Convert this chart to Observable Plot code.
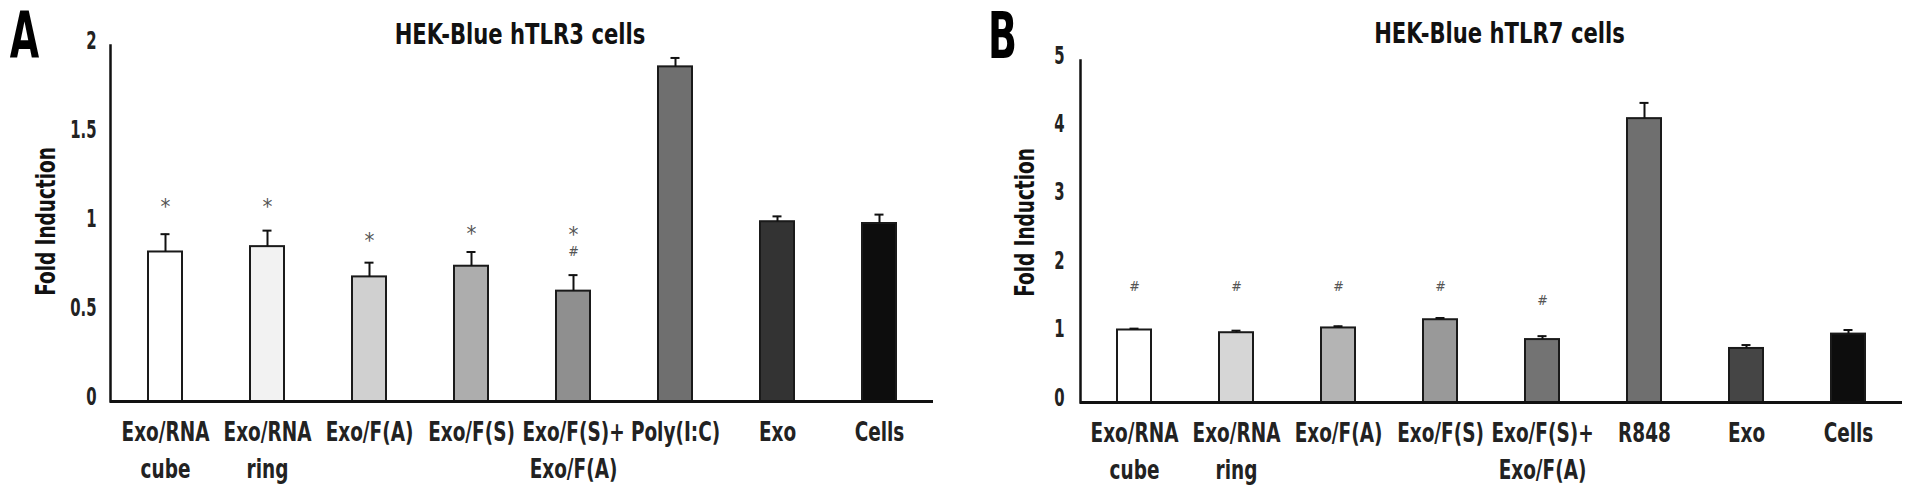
<!DOCTYPE html>
<html><head><meta charset="utf-8">
<script src="https://cdn.jsdelivr.net/npm/d3@7"></script>
<script src="https://cdn.jsdelivr.net/npm/@observablehq/plot@0.6"></script>
<style>
body{margin:0;background:#fff;}
#wrap{display:flex;width:1912px;height:492px;overflow:hidden;}
#wrap > svg{flex:none;}
</style></head><body><div id="wrap"></div>
<script>
const FONT = '"Liberation Sans Narrow","DejaVu Sans Condensed","Arial Narrow",sans-serif';

// Panel A: HEK-Blue hTLR3 cells
const categoriesA = ["Exo/RNA\ncube","Exo/RNA\nring","Exo/F(A)","Exo/F(S)","Exo/F(S)+\nExo/F(A)","Poly(I:C)","Exo","Cells"];
const valuesA = [0.84,0.87,0.70,0.76,0.62,1.88,1.01,1.00];
const errorsA = [0.10,0.09,0.08,0.08,0.09,0.05,0.03,0.05];
const starLevelA = [1.12,1.12,0.93,0.97,0.965,null,null,null];
const hashLevelA = [null,null,null,null,0.845,null,null,null];
const fillsA = ["#ffffff","#f2f2f2","#d0d0d0","#adadad","#8f8f8f","#6f6f6f","#333333","#0d0d0d"];
const ticksA = [0,0.5,1,1.5,2];

// Panel B: HEK-Blue hTLR7 cells
const categoriesB = ["Exo/RNA\ncube","Exo/RNA\nring","Exo/F(A)","Exo/F(S)","Exo/F(S)+\nExo/F(A)","R848","Exo","Cells"];
const valuesB = [1.06,1.02,1.09,1.21,0.92,4.15,0.79,1.00];
const errorsB = [0.02,0.03,0.025,0.025,0.05,0.23,0.05,0.06];
const starLevelB = [null,null,null,null,null,null,null,null];
const hashLevelB = [1.70,1.70,1.70,1.70,1.49,null,null,null];
const fillsB = ["#ffffff","#d6d6d6","#b4b4b4","#999999","#737373","#6f6f6f","#454545","#0d0d0d"];
const ticksB = [0,1,2,3,4,5];

// horizontal condensing per font size (the reference uses a condensed face)
const condense = {64:0.66, 28:0.84, 27:0.76, 26:0.79, 25:0.66};

function panel(o) {
  const rows = o.cats.map((c,i)=>({cat:c, v:o.vals[i], e:o.errs[i], fill:o.fills[i], star:o.stars[i], hash:o.hashes[i]}));
  return Plot.plot({
    width: o.width, height: 492,
    marginLeft: o.marginLeft, marginRight: o.marginRight, marginTop: o.marginTop, marginBottom: o.marginBottom,
    style: {fontFamily: FONT, background: "#fff", overflow: "visible"},
    x: {domain: o.cats, paddingInner: 0.67, paddingOuter: 0.335, label: null},
    y: {domain: [0, o.yMax], label: null},
    color: {type: "identity"},
    marks: [
      Plot.barY(rows, {x:"cat", y:"v", fill:"fill", stroke:"#1a1a1a", strokeWidth:2}),
      Plot.ruleX(rows, {x:"cat", y1:"v", y2:d=>d.v+d.e, stroke:"#111", strokeWidth:2}),
      Plot.tickY(rows, {x:"cat", y:d=>d.v+d.e, stroke:"#111", strokeWidth:2, insetLeft:12.5, insetRight:12.5}),
      Plot.ruleY([0], {stroke:"#111", strokeWidth:3}),
      Plot.frame({anchor:"left", stroke:"#111", strokeWidth:2.5}),
      Plot.axisY({ticks:o.ticks, tickFormat:d=>String(d), tickSize:0, tickPadding:o.yPad, fontSize:25, fontWeight:"bold", fontFamily:FONT, dy:-5, fill:"#222"}),
      Plot.axisX({tickSize:0, tickPadding:13, fontSize:26, fontWeight:"bold", fontFamily:FONT, lineHeight:1.42, fill:"#222"}),
      Plot.text(rows.filter(d=>d.star!=null), {x:"cat", y:"star", text:()=>"*", fontSize:22, fill:"#555", fontFamily:FONT, dy:5}),
      Plot.text(rows.filter(d=>d.hash!=null), {x:"cat", y:"hash", text:()=>"#", fontSize:14, fill:"#555", fontFamily:FONT}),
      Plot.text([o.title], {text:d=>d, frameAnchor:"top", dx:o.titleDx, dy:o.titleDy, fontSize:28, fontWeight:"bold", fontFamily:FONT, fill:"#111", lineAnchor:"middle"}),
      Plot.text([o.letter], {text:d=>d, frameAnchor:"top-left", dx:o.letterDx, dy:o.letterDy, fontSize:64, fontWeight:"bold", fontFamily:FONT, fill:"#000", lineAnchor:"middle", textAnchor:"middle"}),
      Plot.text(["Fold Induction"], {text:d=>d, frameAnchor:"left", rotate:-90, dx:o.ylabDx, dy:o.ylabDy, fontSize:27, fontWeight:"bold", fontFamily:FONT, fill:"#111", lineAnchor:"middle", textAnchor:"middle"})
    ]
  });
}

function condenseText(svg) {
  svg.querySelectorAll("text").forEach(t => {
    const fs = Math.round(parseFloat(getComputedStyle(t).fontSize));
    const s = condense[fs];
    if (!s) return;
    const tr = t.getAttribute("transform") || "";
    t.setAttribute("transform", `${tr} scale(${s},1)`);
  });
}

const wrap = document.getElementById("wrap");
const svgA = panel({
  cats:categoriesA, vals:valuesA, errs:errorsA, fills:fillsA, stars:starLevelA, hashes:hashLevelA, ticks:ticksA, yMax:2,
  width:960, marginLeft:110, marginRight:27, marginTop:45, marginBottom:91, yPad:14,
  title:"HEK-Blue hTLR3 cells", titleDx:-2, titleDy:-10,
  letter:"A", letterDx:-86, letterDy:-8, ylabDx:-64, ylabDy:-2
});
const svgB = panel({
  cats:categoriesB, vals:valuesB, errs:errorsB, fills:fillsB, stars:starLevelB, hashes:hashLevelB, ticks:ticksB, yMax:5,
  width:952, marginLeft:120, marginRight:10, marginTop:60, marginBottom:90, yPad:16,
  title:"HEK-Blue hTLR7 cells", titleDx:8, titleDy:-26,
  letter:"B", letterDx:-78, letterDy:-23, ylabDx:-55, ylabDy:-9
});
wrap.append(svgA, svgB);
condenseText(svgA); condenseText(svgB);
</script></body></html>
